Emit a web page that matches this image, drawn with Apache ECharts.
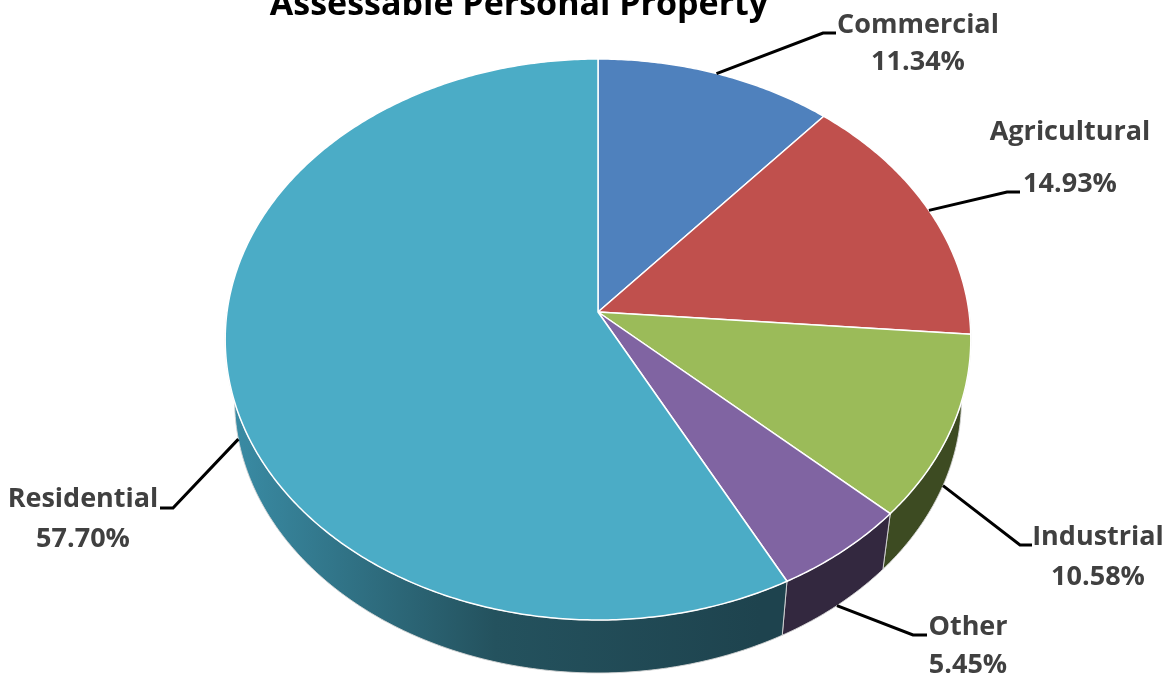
<!DOCTYPE html>
<html>
<head>
<meta charset="utf-8">
<script src="https://cdn.jsdelivr.net/npm/echarts@6/dist/echarts.min.js"></script>
<style>
  html, body { margin: 0; padding: 0; background: #fff; }
  #main { width: 1172px; height: 678px; }
</style>
</head>
<body>
<div id="main"></div>
<script>
var title = 'Assessable Personal Property'
var categories = ['Commercial', 'Agricultural', 'Industrial', 'Other', 'Residential']
var shares = [11.34, 14.93, 10.58, 5.45, 57.70]

var topColors = ['#4f81bd', '#c0504d', '#9bbb59', '#8064a2', '#4bacc6']
var sideColors = ['#2b4a70', '#6e2c2a', '#3d4b22', '#33283f', '#1f4652']

// tilted pie seen in perspective (apex, radii, perspective factor, thickness)
var pie = { cx: 598, cy: 312, rx: 371, ry: 277.8, k: 0.098, depth: 60.7, bottomScale: 0.975 }

// where each label sits: leader starts on top edge or on the side, bends at elbow, ends at end
var labelLayout = [
  { onSide: false, elbow: [823, 33], end: [836, 33], x: 918, base: [33, 70] },
  { onSide: false, elbow: [1007, 192], end: [1020, 192], x: 1070, base: [140, 192] },
  { onSide: true, elbow: [1020, 545], end: [1032, 545], x: 1098, base: [545, 585] },
  { onSide: true, elbow: [913, 635], end: [927, 635], x: 968, base: [635, 673] },
  { onSide: true, elbow: [173, 508], end: [160, 508], x: 83, base: [507, 547] }
]
var labelFont = 27

var total = shares.reduce(function (a, b) { return a + b }, 0)
var startAngles = []
var acc = 0
shares.forEach(function (v) {
  startAngles.push(acc / total * Math.PI * 2)
  acc += v
})

// point on the rim, angle measured clockwise from 12 o'clock
function rim(theta, bottom) {
  var u = Math.sin(theta)
  var v = Math.cos(theta)
  var d = 1 + pie.k * v
  var s = bottom ? pie.bottomScale : 1
  var oy = bottom ? pie.depth : 0
  return [pie.cx + s * pie.rx * u / d, pie.cy + oy - s * pie.ry * v / d]
}

function arc(a, b, bottom) {
  var pts = []
  var n = Math.max(2, Math.ceil(Math.abs(b - a) / 0.01))
  for (var j = 0; j <= n; j++) {
    pts.push(rim(a + (b - a) * j / n, bottom))
  }
  return pts
}

function renderItem(params, api) {
  var i = params.dataIndex
  var value = api.value(0)
  var start = startAngles[i]
  var end = start + value / total * Math.PI * 2
  var children = []

  // top face
  var face = [[pie.cx, pie.cy]].concat(arc(start, end, false))
  children.push({
    type: 'polygon',
    z2: 10,
    shape: { points: face },
    style: { fill: topColors[i], stroke: '#ffffff', lineWidth: 1.5, lineJoin: 'round' }
  })

  // visible side wall (front half only)
  var a = Math.max(start, Math.PI / 2)
  var b = Math.min(end, Math.PI * 1.5)
  if (b > a) {
    var wall = arc(a, b, false).concat(arc(a, b, true).reverse())
    var fill = sideColors[i]
    if (i === 4) {
      fill = new echarts.graphic.LinearGradient(230, 0, 760, 0, [
        { offset: 0, color: '#3a8ca5' },
        { offset: 0.5, color: '#24525e' },
        { offset: 1, color: '#1e434e' }
      ], true)
    }
    children.push({
      type: 'polygon',
      z2: 5,
      shape: { points: wall },
      style: { fill: fill, stroke: 'rgba(215,215,215,0.9)', lineWidth: 1 }
    })
  }

  // leader line
  var lay = labelLayout[i]
  var mid = (start + end) / 2
  var anchor = rim(mid, lay.onSide)
  children.push({
    type: 'polyline',
    z2: 20,
    shape: { points: [anchor, lay.elbow, lay.end] },
    style: { stroke: '#000', lineWidth: 3, fill: null }
  })

  // label text: name and percentage
  var lines = [categories[i], value.toFixed(2) + '%']
  lines.forEach(function (t, j) {
    children.push({
      type: 'text',
      z2: 20,
      x: lay.x,
      y: lay.base[j] - labelFont * 0.29,
      style: {
        text: t,
        fill: '#404040',
        font: 'bold ' + labelFont + 'px "Open Sans"',
        align: 'center',
        verticalAlign: 'middle'
      }
    })
  })

  return { type: 'group', children: children }
}

var chart = echarts.init(document.getElementById('main'))
chart.setOption({
  animation: false,
  graphic: [{
    type: 'text',
    x: 519,
    y: 15 - 34 * 0.29,
    style: {
      text: title,
      fill: '#000',
      font: 'bold 34px "Open Sans"',
      align: 'center',
      verticalAlign: 'middle'
    }
  }],
  series: [{
    type: 'custom',
    coordinateSystem: 'none',
    renderItem: renderItem,
    data: shares.map(function (v) { return [v] })
  }]
})
</script>
</body>
</html>
